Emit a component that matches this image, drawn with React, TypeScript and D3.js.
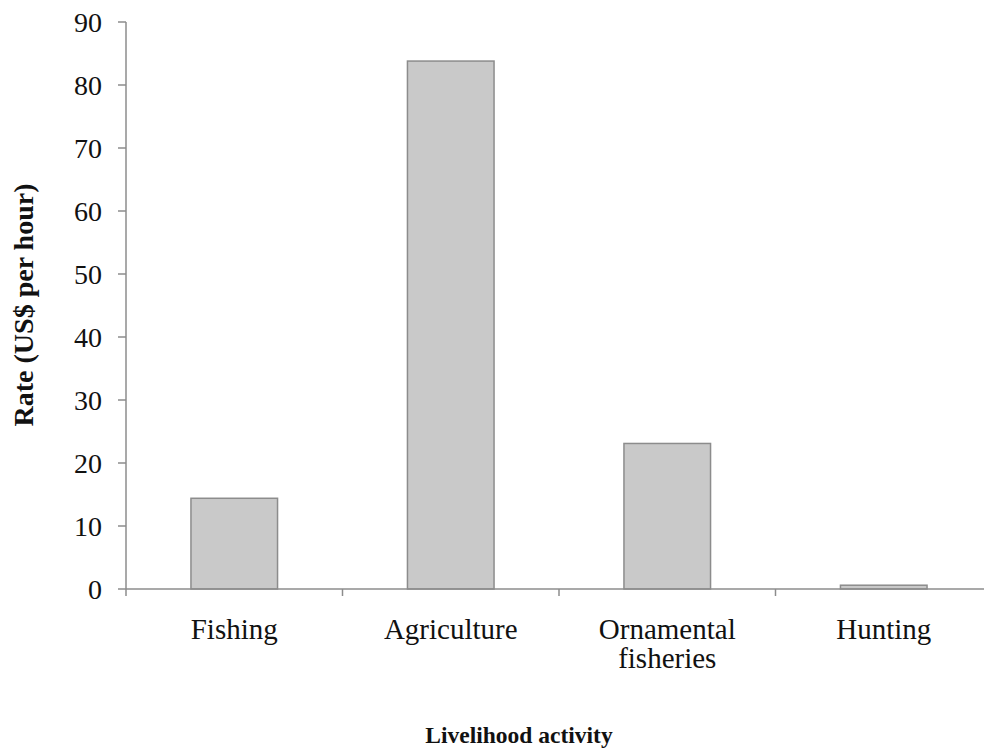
import * as d3 from "d3";

const categories = ["Fishing", "Agriculture", "Ornamental fisheries", "Hunting"];
const categoryLines = [["Fishing"], ["Agriculture"], ["Ornamental", "fisheries"], ["Hunting"]];
const rates = [14.4, 83.8, 23.1, 0.6];
const yTicks = [0, 10, 20, 30, 40, 50, 60, 70, 80, 90];

const width = 984;
const height = 749;
const font = "'Liberation Serif', 'Times New Roman', serif";

const App = () => {
  const x = d3
    .scaleBand<string>()
    .domain(categories)
    .range([126, 992])
    .paddingInner(0.6)
    .paddingOuter(0.3);

  const y = d3.scaleLinear().domain([0, 90]).range([589, 22]);

  // category boundaries for the tick marks under the x axis
  const step = x.step();
  const bounds = d3.range(categories.length + 1).map((i) => 126 + i * step);

  const axisColor = "#8c8c8c";

  return (
    <div style={{ position: "fixed", left: 0, top: 0 }}>
      <svg width={width} height={height} style={{ display: "block", background: "#fff" }}>
        {/* bars */}
        {categories.map((c, i) => (
          <rect
            key={c}
            x={x(c)}
            y={y(rates[i])}
            width={x.bandwidth()}
            height={y(0) - y(rates[i])}
            fill="#c9c9c9"
            stroke={axisColor}
            strokeWidth={1.5}
          />
        ))}

        {/* y axis */}
        <line x1={126} x2={126} y1={y(90)} y2={y(0)} stroke={axisColor} strokeWidth={1.5} />
        {yTicks.map((t) => (
          <g key={t}>
            <line x1={118} x2={126} y1={y(t)} y2={y(t)} stroke={axisColor} strokeWidth={1.5} />
            <text
              x={102}
              y={y(t)}
              dy="0.35em"
              textAnchor="end"
              fontFamily={font}
              fontSize={28}
              fill="#111"
            >
              {t}
            </text>
          </g>
        ))}

        {/* x axis */}
        <line x1={126} x2={992} y1={y(0)} y2={y(0)} stroke={axisColor} strokeWidth={1.5} />
        {bounds.map((b, i) => (
          <line key={i} x1={b} x2={b} y1={y(0)} y2={y(0) + 7} stroke={axisColor} strokeWidth={1.5} />
        ))}
        {categories.map((c, i) => (
          <text
            key={c}
            x={(x(c) ?? 0) + x.bandwidth() / 2}
            y={639}
            textAnchor="middle"
            fontFamily={font}
            fontSize={29}
            fill="#111"
          >
            {categoryLines[i].map((line, j) => (
              <tspan key={j} x={(x(c) ?? 0) + x.bandwidth() / 2} dy={j === 0 ? 0 : 29}>
                {line}
              </tspan>
            ))}
          </text>
        ))}

        {/* axis titles */}
        <text
          x={519}
          y={743}
          textAnchor="middle"
          fontFamily={font}
          fontSize={23.5}
          fontWeight="bold"
          fill="#111"
        >
          Livelihood activity
        </text>
        <text
          transform={`translate(33,305) rotate(-90)`}
          textAnchor="middle"
          fontFamily={font}
          fontSize={28}
          fontWeight="bold"
          fill="#111"
        >
          Rate (US$ per hour)
        </text>
      </svg>
    </div>
  );
};

export default App;
